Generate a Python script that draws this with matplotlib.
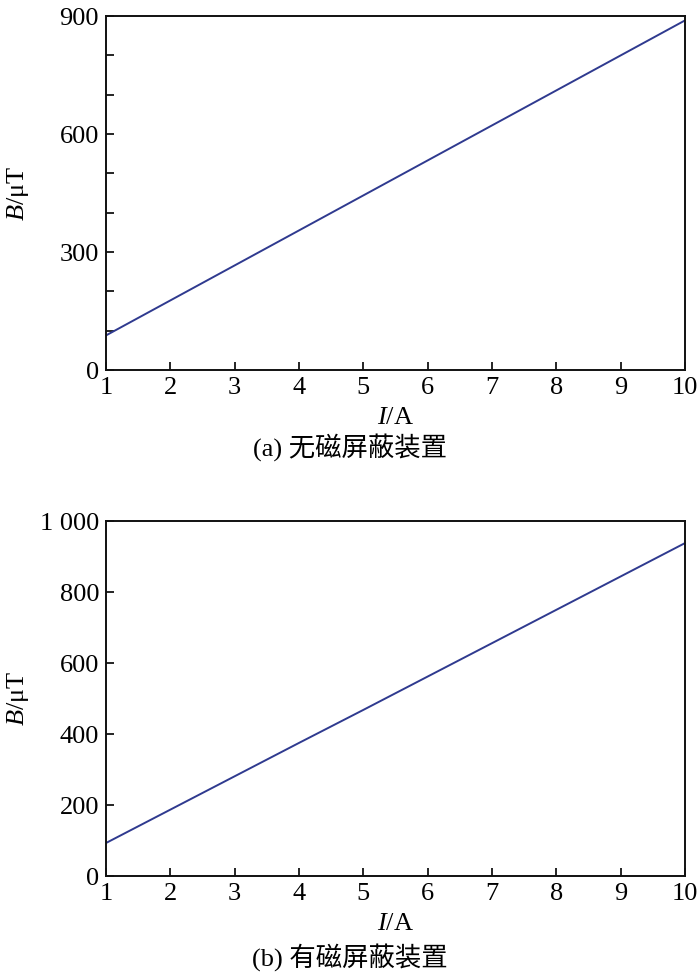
import matplotlib
matplotlib.use("Agg")
import matplotlib.pyplot as plt
from matplotlib.ticker import MultipleLocator, FuncFormatter

current = [1, 2, 3, 4, 5, 6, 7, 8, 9, 10]
b_no_shield = [88, 177, 266, 355, 444, 533, 622, 711, 800, 889]
b_shield = [93, 187, 281, 375, 468, 562, 656, 750, 844, 938]
caption_a = "(a) 无磁屏蔽装置"
caption_b = "(b) 有磁屏蔽装置"

plt.rcParams['font.family'] = ['Liberation Serif', 'Noto Sans CJK SC']
plt.rcParams['mathtext.fontset'] = 'custom'
plt.rcParams['mathtext.it'] = 'Liberation Serif:italic'
plt.rcParams['mathtext.rm'] = 'Liberation Serif'

fig = plt.figure(figsize=(7, 9.8), dpi=100)
line_color = '#2f3a8f'
fs = 19
W, H = 700, 980

def fmt(v, pos):
    v = int(round(v))
    return f"{v:,}".replace(",", " ")

def style(ax, ymax, major, minor, xlabel_y):
    ax.set_xlim(1, 10)
    ax.set_ylim(0, ymax)
    ax.xaxis.set_major_locator(MultipleLocator(1))
    ax.yaxis.set_major_locator(MultipleLocator(major))
    if minor:
        ax.yaxis.set_minor_locator(MultipleLocator(minor))
    ax.yaxis.set_major_formatter(FuncFormatter(fmt))
    ax.tick_params(direction='in', length=6, width=1.2, labelsize=fs, pad=5,
                   top=False, right=False)
    ax.tick_params(which='minor', direction='in', length=6, width=1.2,
                   top=False, right=False)
    for sp in ax.spines.values():
        sp.set_linewidth(1.4)
        sp.set_color('#111111')
    ax.set_xlabel(r'$I$/A', fontsize=fs)
    ax.set_ylabel(r'$B$/μT', fontsize=fs)
    # place labels in pixel terms relative to axes
    bb = ax.get_position()
    ax_left = bb.x0 * W
    ax_w = bb.width * W
    ax_bottom_px = (1 - bb.y0) * H
    ax_h = bb.height * H
    ax.yaxis.set_label_coords((18 - ax_left) / ax_w, 0.5)
    ax.xaxis.set_label_coords(0.5, -(xlabel_y - ax_bottom_px) / ax_h)
    ax.xaxis.label.set_va('center')
    ax.yaxis.label.set_va('center')

ax1 = fig.add_axes([0.1514, 0.6224, 0.8272, 0.3612])
ax1.plot(current, b_no_shield, color=line_color, lw=1.4)
style(ax1, 900, 300, 100, 418)
fig.text(0.5, 1 - 447 / H, caption_a, ha='center', va='center', fontsize=fs)

ax2 = fig.add_axes([0.1514, 0.1061, 0.8272, 0.3622])
ax2.plot(current, b_shield, color=line_color, lw=1.4)
style(ax2, 1000, 200, None, 924)
fig.text(0.5, 1 - 957 / H, caption_b, ha='center', va='center', fontsize=fs)

fig.savefig("out.png", dpi=100)
